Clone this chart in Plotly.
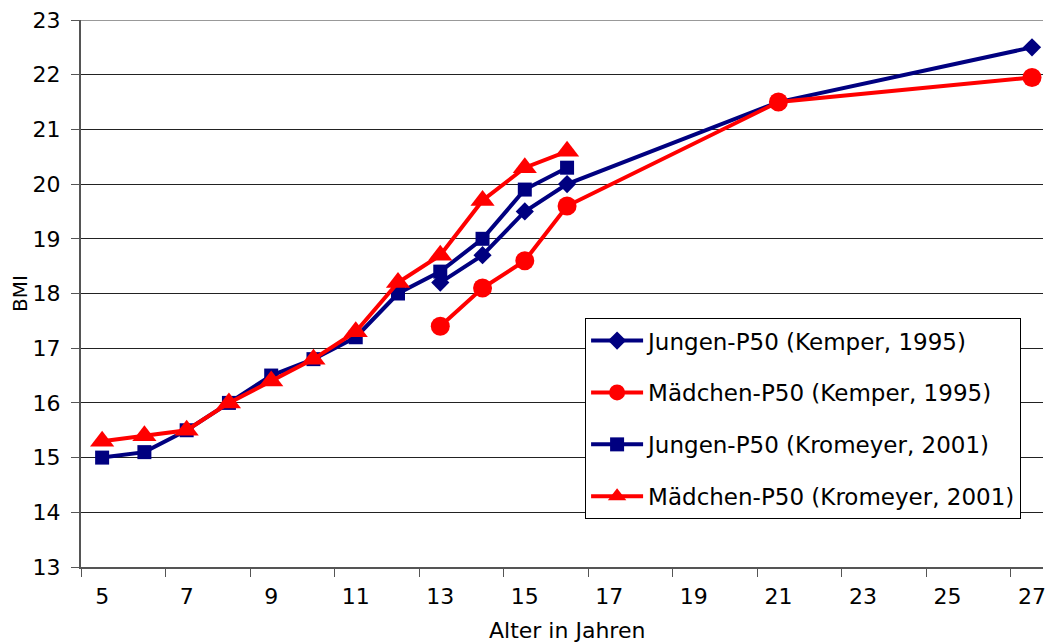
import plotly.graph_objects as go

# Median BMI (P50) by age
ages_kemper = [13, 14, 15, 16, 21, 27]
boys_kemper = [18.2, 18.7, 19.5, 20.0, 21.5, 22.5]
girls_kemper = [17.4, 18.1, 18.6, 19.6, 21.5, 21.95]

ages_kromeyer = [5, 6, 7, 8, 9, 10, 11, 12, 13, 14, 15, 16]
boys_kromeyer = [15.0, 15.1, 15.5, 16.0, 16.5, 16.8, 17.2, 18.0, 18.4, 19.0, 19.9, 20.3]
girls_kromeyer = [15.3, 15.4, 15.5, 16.0, 16.4, 16.8, 17.3, 18.2, 18.7, 19.7, 20.3, 20.6]

x_ticks = [5, 7, 9, 11, 13, 15, 17, 19, 21, 23, 25, 27]

NAVY = "#000080"
RED = "#FF0000"
FONT = "DejaVu Sans, Arial, sans-serif"

series = [
    ("Jungen-P50 (Kemper, 1995)", ages_kemper, boys_kemper, NAVY, "diamond", 14),
    ("Mädchen-P50 (Kemper, 1995)", ages_kemper, girls_kemper, RED, "circle", 19),
    ("Jungen-P50 (Kromeyer, 2001)", ages_kromeyer, boys_kromeyer, NAVY, "square", 14),
    ("Mädchen-P50 (Kromeyer, 2001)", ages_kromeyer, girls_kromeyer, RED, "triangle-up", 21),
]

fig = go.Figure()
for i, (name, xs, ys, color, symbol, size) in enumerate(series):
    fig.add_trace(go.Scatter(
        x=xs, y=ys, name=name, mode="lines+markers",
        line=dict(color=color, width=4),
        marker=dict(color=color, symbol=symbol, size=size),
        legendgroup=f"g{i}",
        cliponaxis=False,
    ))

fig.update_layout(
    width=1046, height=643,
    margin=dict(l=81, r=0, t=20, b=76),
    paper_bgcolor="white", plot_bgcolor="white",
    font=dict(family=FONT, color="black", size=22),
    showlegend=True,
    legend=dict(
        x=0.524, y=0.455, xanchor="left", yanchor="top",
        bgcolor="white", bordercolor="black", borderwidth=1,
        font=dict(family=FONT, size=23, color="black"),
        tracegroupgap=19, itemwidth=52,
    ),
    xaxis=dict(
        range=[4.5, 27.26],
        tickmode="array", tickvals=x_ticks,
        ticks="", showgrid=False, zeroline=False,
        showline=True, linecolor="#555", linewidth=2,
        tickfont=dict(size=22), ticklabelstandoff=9,
        ticklabeloverflow="allow",
        minor=dict(ticks="outside", tick0=4.5, dtick=2, ticklen=8,
                   tickcolor="#555", tickwidth=1, showgrid=False),
    ),
    yaxis=dict(
        range=[13, 23], tickmode="linear", tick0=13, dtick=1,
        showgrid=True, gridcolor="#222", gridwidth=1, zeroline=False,
        ticks="outside", ticklen=8, tickcolor="#555",
        showline=True, linecolor="#555", linewidth=2,
        tickfont=dict(size=22), ticklabelstandoff=6,
        title=dict(text="BMI", font=dict(size=20), standoff=0),
    ),
    shapes=[dict(
        type="line", xref="paper", x0=0, x1=1, yref="y", y0=23, y1=23,
        line=dict(color="#999", width=2), layer="below",
    )],
    annotations=[dict(
        text="Alter in Jahren", x=16, xref="x", y=-0.117, yref="paper",
        xanchor="center", yanchor="middle", showarrow=False,
        font=dict(family=FONT, size=22, color="black"),
    )],
)

fig.write_html("out.html")
